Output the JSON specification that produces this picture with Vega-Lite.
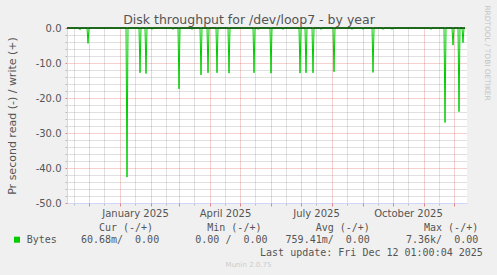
{
  "$schema": "https://vega.github.io/schema/vega-lite/v6.json",
  "width": 400,
  "height": 175,
  "autosize": {"type": "none"},
  "padding": {"left": 67, "top": 28, "right": 30, "bottom": 72},
  "background": "#f0f0f0",
  "view": {"fill": "#ffffff", "stroke": null},
  "resolve": {"axis": {"x": "independent", "y": "independent"}},
  "layer": [
    {
      "data": {"values": [
        {"date":"2024-11-09","read":0},
        {"date":"2024-11-21","read":0},{"date":"2024-11-22","read":-0.5},{"date":"2024-11-23","read":0},
        {"date":"2024-11-29","read":0},{"date":"2024-11-30","read":-4.4},{"date":"2024-12-01","read":0},
        {"date":"2025-01-07","read":0},{"date":"2025-01-08","read":-42.6},{"date":"2025-01-09","read":0},
        {"date":"2025-01-20","read":0},{"date":"2025-01-21","read":-12.8},{"date":"2025-01-22","read":0},
        {"date":"2025-01-26","read":0},{"date":"2025-01-27","read":-13.0},{"date":"2025-01-28","read":0},
        {"date":"2025-02-01","read":0},{"date":"2025-02-02","read":-0.4},{"date":"2025-02-03","read":0},
        {"date":"2025-02-22","read":0},{"date":"2025-02-23","read":-0.4},{"date":"2025-02-24","read":0},
        {"date":"2025-02-28","read":0},{"date":"2025-03-01","read":-17.4},{"date":"2025-03-02","read":0},
        {"date":"2025-03-13","read":0},{"date":"2025-03-14","read":-0.4},{"date":"2025-03-15","read":0},
        {"date":"2025-03-22","read":0},{"date":"2025-03-23","read":-13.4},{"date":"2025-03-24","read":0},
        {"date":"2025-03-29","read":0},{"date":"2025-03-30","read":-12.8},{"date":"2025-03-31","read":0},
        {"date":"2025-04-07","read":0},{"date":"2025-04-08","read":-12.8},{"date":"2025-04-09","read":0},
        {"date":"2025-04-19","read":0},{"date":"2025-04-20","read":-12.9},{"date":"2025-04-21","read":0},
        {"date":"2025-05-14","read":0},{"date":"2025-05-15","read":-12.8},{"date":"2025-05-16","read":0},
        {"date":"2025-05-18","read":0},{"date":"2025-05-19","read":-0.4},{"date":"2025-05-20","read":0},
        {"date":"2025-05-31","read":0},{"date":"2025-06-01","read":-12.9},{"date":"2025-06-02","read":0},
        {"date":"2025-06-12","read":0},{"date":"2025-06-13","read":-0.4},{"date":"2025-06-14","read":0},
        {"date":"2025-06-29","read":0},{"date":"2025-06-30","read":-12.9},{"date":"2025-07-01","read":0},
        {"date":"2025-07-05","read":0},{"date":"2025-07-06","read":-12.8},{"date":"2025-07-07","read":0},
        {"date":"2025-07-12","read":0},{"date":"2025-07-13","read":-12.8},{"date":"2025-07-14","read":0},
        {"date":"2025-07-20","read":0},{"date":"2025-07-21","read":-0.4},{"date":"2025-07-22","read":0},
        {"date":"2025-08-02","read":0},{"date":"2025-08-03","read":-12.5},{"date":"2025-08-04","read":0},
        {"date":"2025-08-20","read":0},{"date":"2025-08-21","read":-0.4},{"date":"2025-08-22","read":0},
        {"date":"2025-08-31","read":0},{"date":"2025-09-01","read":-0.4},{"date":"2025-09-02","read":0},
        {"date":"2025-09-10","read":0},{"date":"2025-09-11","read":-12.7},{"date":"2025-09-12","read":0},
        {"date":"2025-09-20","read":0},{"date":"2025-09-21","read":-0.4},{"date":"2025-09-22","read":0},
        {"date":"2025-09-29","read":0},{"date":"2025-09-30","read":-0.4},{"date":"2025-10-01","read":0},
        {"date":"2025-11-07","read":0},{"date":"2025-11-08","read":-0.4},{"date":"2025-11-09","read":0},
        {"date":"2025-11-21","read":0},{"date":"2025-11-22","read":-27.0},{"date":"2025-11-23","read":0},
        {"date":"2025-11-29","read":0},{"date":"2025-11-30","read":-4.9},{"date":"2025-12-01","read":0},
        {"date":"2025-12-05","read":0},{"date":"2025-12-06","read":-23.9},{"date":"2025-12-07","read":0},
        {"date":"2025-12-09","read":0},{"date":"2025-12-10","read":-4.2},{"date":"2025-12-11","read":0},
        {"date":"2025-12-12","read":0}
      ]},
      "mark": {"type": "line", "strokeWidth": 1, "interpolate": "linear"},
      "encoding": {
        "x": {
          "field": "date", "type": "temporal",
          "scale": {"type": "utc", "domain": [{"year": 2024, "month": 11, "date": 9, "utc": true}, {"year": 2025, "month": 12, "date": 14, "utc": true}]},
          "axis": {
            "orient": "bottom",
            "values": [
              {"year": 2024, "month": 11, "date": 16, "utc": true},
              {"year": 2024, "month": 12, "date": 16, "utc": true},
              {"year": 2025, "month": 1, "date": 16, "utc": true},
              {"year": 2025, "month": 2, "date": 16, "utc": true},
              {"year": 2025, "month": 3, "date": 16, "utc": true},
              {"year": 2025, "month": 4, "date": 16, "utc": true},
              {"year": 2025, "month": 5, "date": 16, "utc": true},
              {"year": 2025, "month": 6, "date": 16, "utc": true},
              {"year": 2025, "month": 7, "date": 16, "utc": true},
              {"year": 2025, "month": 8, "date": 16, "utc": true},
              {"year": 2025, "month": 9, "date": 16, "utc": true},
              {"year": 2025, "month": 10, "date": 16, "utc": true},
              {"year": 2025, "month": 11, "date": 16, "utc": true}
            ],
            "grid": true, "gridColor": "#8f8f8f", "gridOpacity": 0.55, "gridDash": [1, 1], "gridWidth": 1,
            "ticks": true, "tickColor": "#8f8f8f", "tickOpacity": 0.6, "tickSize": 2, "tickWidth": 1,
            "domain": true, "domainColor": "#cfd6f8", "domainWidth": 1,
            "labels": true,
            "labelExpr": "indexof([0,3,6,9], utcmonth(datum.value)) >= 0 ? utcFormat(datum.value, '%B %Y') : ''",
            "labelFont": "DejaVu Sans", "labelFontSize": 10, "labelColor": "#555555",
            "labelBaseline": "alphabetic", "labelPadding": 11.7, "labelOverlap": false, "labelFlush": false,
            "title": "Munin 2.0.75", "titleFont": "DejaVu Sans", "titleFontSize": 7, "titleFontWeight": "normal",
            "titleColor": "#cccccc", "titleX": 181, "titleY": 63, "titleAlign": "center", "titleBaseline": "alphabetic"
          }
        },
        "y": {
          "field": "read", "type": "quantitative",
          "scale": {"domain": [-50, 0], "nice": false, "zero": false},
          "axis": {
            "orient": "left",
            "values": [-48, -46, -44, -42, -38, -36, -34, -32, -28, -26, -24, -22, -18, -16, -14, -12, -8, -6, -4, -2],
            "grid": true, "gridColor": "#8f8f8f", "gridOpacity": 0.55, "gridDash": [1, 1], "gridWidth": 1,
            "ticks": true, "tickColor": "#8f8f8f", "tickOpacity": 0.6, "tickSize": 2,
            "labels": false, "domain": false,
            "title": "Cur (-/+)\u00a0\u00a0\u00a0\u00a0\u00a0\u00a0\u00a0\u00a0\u00a0Min (-/+)\u00a0\u00a0\u00a0\u00a0\u00a0\u00a0\u00a0\u00a0\u00a0Avg (-/+)\u00a0\u00a0\u00a0\u00a0\u00a0\u00a0\u00a0\u00a0\u00a0Max (-/+)",
            "titleFont": "DejaVu Sans Mono", "titleFontSize": 10, "titleFontWeight": "normal", "titleColor": "#555555",
            "titleAngle": 0, "titleAlign": "left", "titleBaseline": "alphabetic", "titleX": 31.4, "titleY": 202.8, "titleLimit": 1000
          }
        },
        "color": {
          "datum": "Bytes",
          "scale": {"range": ["#00cc00"]},
          "legend": {
            "orient": "none", "legendX": -55, "legendY": 206.7, "direction": "vertical", "padding": 0,
            "title": null,
            "labelFont": "DejaVu Sans Mono", "labelFontSize": 10, "labelColor": "#555555", "labelLimit": 1000, "labelOffset": 4.7,
            "labelExpr": "'Bytes\u00a0\u00a0\u00a0\u00a060.68m/\u00a0\u00a00.00\u00a0\u00a0\u00a0\u00a0\u00a0\u00a00.00 /\u00a0\u00a00.00\u00a0\u00a0\u00a0759.41m/\u00a0\u00a00.00\u00a0\u00a0\u00a0\u00a0\u00a0\u00a07.36k/\u00a0\u00a00.00'",
            "symbolType": "square", "symbolSize": 36, "symbolFillColor": "#00cc00", "symbolStrokeColor": "#00cc00", "symbolStrokeWidth": 0, "symbolOpacity": 1,
            "encode": {"symbols": {"update": {"fill": {"value": "#00cc00"}, "stroke": {"value": "#00cc00"}, "strokeWidth": {"value": 0}}}}
          }
        }
      }
    },
    {
      "data": {"values": [{"date": "2024-11-09", "write": 0}, {"date": "2025-12-12", "write": 0}]},
      "mark": {"type": "line", "color": "#00cc00", "strokeWidth": 1},
      "encoding": {
        "x": {
          "field": "date", "type": "temporal",
          "axis": {
            "orient": "bottom",
            "values": [
              {"year": 2024, "month": 12, "date": 1, "utc": true},
              {"year": 2025, "month": 1, "date": 1, "utc": true},
              {"year": 2025, "month": 2, "date": 1, "utc": true},
              {"year": 2025, "month": 3, "date": 1, "utc": true},
              {"year": 2025, "month": 4, "date": 1, "utc": true},
              {"year": 2025, "month": 5, "date": 1, "utc": true},
              {"year": 2025, "month": 6, "date": 1, "utc": true},
              {"year": 2025, "month": 7, "date": 1, "utc": true},
              {"year": 2025, "month": 8, "date": 1, "utc": true},
              {"year": 2025, "month": 9, "date": 1, "utc": true},
              {"year": 2025, "month": 10, "date": 1, "utc": true},
              {"year": 2025, "month": 11, "date": 1, "utc": true},
              {"year": 2025, "month": 12, "date": 1, "utc": true}
            ],
            "grid": true, "gridColor": "#e05050", "gridOpacity": 0.55, "gridDash": [1, 1], "gridWidth": 1,
            "ticks": true, "tickColor": "#e05050", "tickOpacity": 0.7, "tickSize": 3, "tickWidth": 1,
            "labels": false, "domain": false,
            "title": "Last update: Fri Dec 12 01:00:04 2025", "titleFont": "DejaVu Sans Mono", "titleFontSize": 10,
            "titleFontWeight": "normal", "titleColor": "#555555", "titleX": 415.3, "titleY": 52.3,
            "titleAlign": "right", "titleBaseline": "alphabetic"
          }
        },
        "y": {
          "field": "write", "type": "quantitative",
          "axis": {
            "orient": "left",
            "values": [-50, -40, -30, -20, -10, 0],
            "labelExpr": "datum.value + '.0'",
            "grid": true, "gridColor": "#e05050", "gridOpacity": 0.55, "gridDash": [1, 1], "gridWidth": 1,
            "ticks": true, "tickColor": "#e05050", "tickOpacity": 0.7, "tickSize": 2,
            "domain": true, "domainColor": "#cfd6f8", "domainWidth": 1,
            "labels": true, "labelFont": "DejaVu Sans", "labelFontSize": 10, "labelColor": "#555555", "labelPadding": 4,
            "title": "Pr second read (-) / write (+)", "titleFont": "DejaVu Sans", "titleFontSize": 11,
            "titleFontWeight": "normal", "titleColor": "#555555", "titleAngle": -90, "titleX": -52, "titleY": 87.5,
            "titleAlign": "center", "titleBaseline": "alphabetic"
          }
        }
      }
    },
    {
      "data": {"values": [{"date": "2024-11-09", "zero": 0}, {"date": "2025-12-12", "zero": 0}]},
      "mark": {"type": "line", "color": "#000000", "strokeWidth": 1},
      "encoding": {
        "x": {
          "field": "date", "type": "temporal",
          "axis": {
            "orient": "top", "grid": false, "ticks": false, "labels": false, "domain": false,
            "title": "Disk throughput for /dev/loop7 - by year", "titleFont": "DejaVu Sans", "titleFontSize": 12.5,
            "titleFontWeight": "normal", "titleColor": "#555555", "titleX": 181.5, "titleY": -4.5,
            "titleAlign": "center", "titleBaseline": "alphabetic", "titleLimit": 1000
          }
        },
        "y": {
          "field": "zero", "type": "quantitative",
          "axis": {
            "orient": "right", "grid": false, "ticks": false, "labels": false, "domain": false,
            "title": "RRDTOOL / TOBI OETIKER", "titleFont": "DejaVu Sans", "titleFontSize": 7.4, "titleFontWeight": "normal",
            "titleColor": "#c4c4c4", "titleAngle": 90, "titleX": 19.7, "titleY": 24.5, "titleAlign": "center", "titleBaseline": "middle"
          }
        }
      }
    }
  ]
}
